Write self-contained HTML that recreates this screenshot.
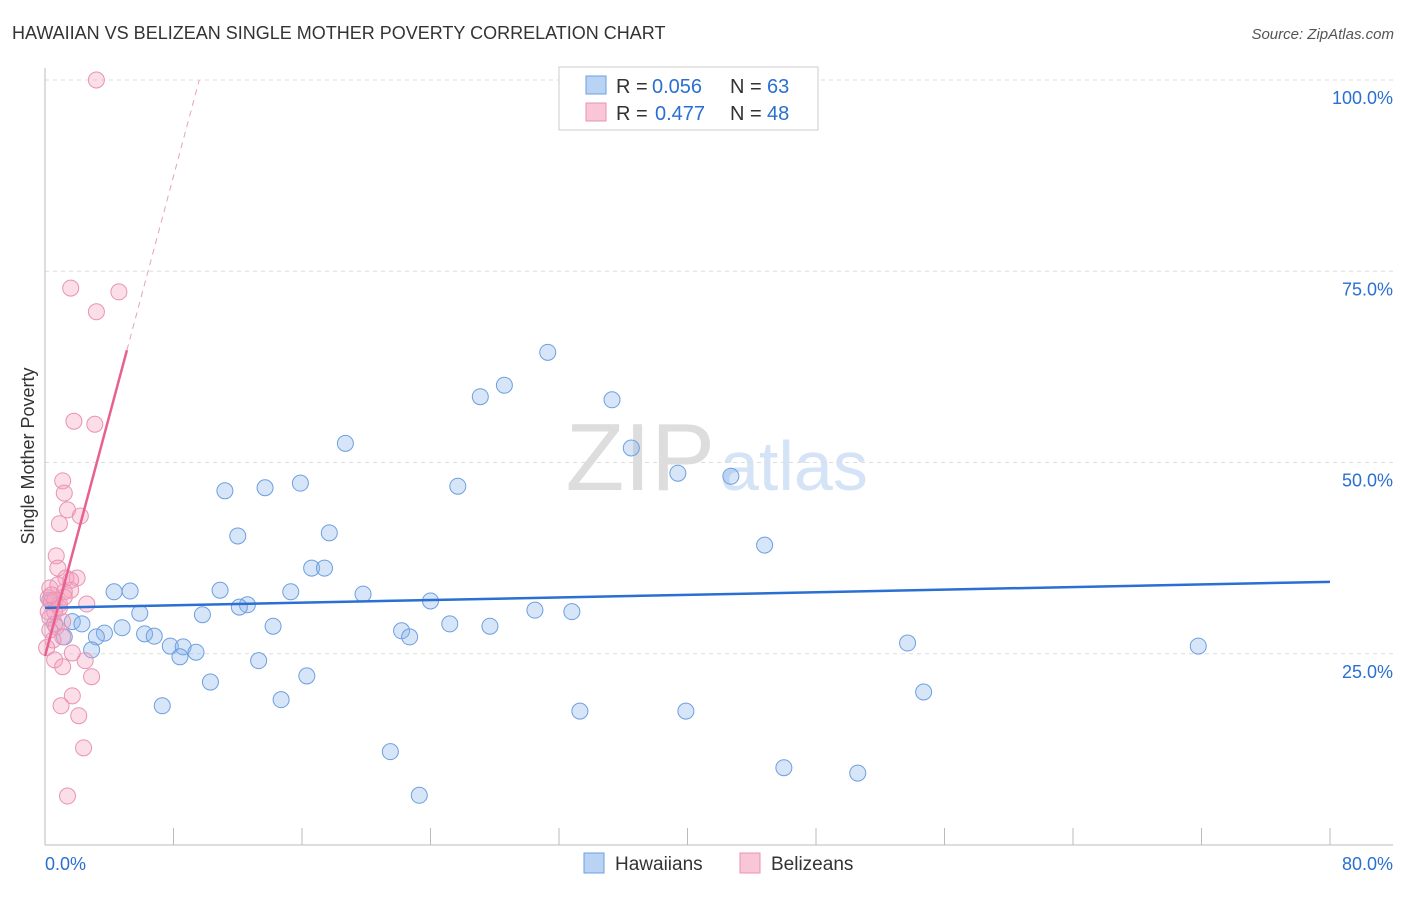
<!DOCTYPE html>
<html><head><meta charset="utf-8"><style>
body{margin:0;background:#fff;font-family:"Liberation Sans",sans-serif;}
svg text{font-family:"Liberation Sans",sans-serif;}
</style></head><body>
<svg id="c" width="1406" height="892">
<text x="12" y="39" font-size="18" fill="#333">HAWAIIAN VS BELIZEAN SINGLE MOTHER POVERTY CORRELATION CHART</text>
<text x="1394" y="39" font-size="15" fill="#555" font-style="italic" text-anchor="end">Source: ZipAtlas.com</text>
<text x="715" y="490" font-size="96" fill="#ddd" text-anchor="end" font-family="Liberation Serif">ZIP</text>
<text x="720" y="490" font-size="70" fill="#d4e3f5">atlas</text>
<text transform="translate(34,456) rotate(-90)" font-size="18" fill="#333" text-anchor="middle">Single Mother Poverty</text>
<g id="grid"></g><g id="pts"></g><g id="trend"></g>
<g>
<rect x="559" y="67" width="259" height="63" fill="#fff" stroke="#ccc"/>
<rect x="586" y="76" width="20" height="18" fill="#b9d3f5" stroke="#6d9fe0"/>
<rect x="586" y="103" width="20" height="18" fill="#f9c6d6" stroke="#e893b3"/>
<text x="616" y="93" font-size="20" fill="#333">R =</text>
<text x="652" y="93" font-size="20" fill="#2a6fd1">0.056</text>
<text x="730" y="93" font-size="20" fill="#333">N =</text>
<text x="767" y="93" font-size="20" fill="#2a6fd1">63</text>
<text x="616" y="120" font-size="20" fill="#333">R =</text>
<text x="655" y="120" font-size="20" fill="#2a6fd1">0.477</text>
<text x="730" y="120" font-size="20" fill="#333">N =</text>
<text x="767" y="120" font-size="20" fill="#2a6fd1">48</text>
</g>
<g>
<rect x="584" y="853" width="20" height="20" fill="#b9d3f5" stroke="#6d9fe0"/>
<text x="615" y="870" font-size="19" fill="#333">Hawaiians</text>
<rect x="740" y="853" width="20" height="20" fill="#f9c6d6" stroke="#e893b3"/>
<text x="771" y="870" font-size="19" fill="#333">Belizeans</text>
</g>
</svg>
<script>
const hawX=[31.3,28.6,27.1,35.3,18.7,36.5,39.4,42.7,25.7,15.9,13.7,11.2,12.0,17.7,44.8,16.6,17.4,10.9,15.3,19.8,5.3,4.3,24.0,12.6,12.1,30.5,32.8,5.9,9.8,1.7,2.3,4.8,14.2,25.2,27.7,22.2,22.7,3.7,6.2,6.8,3.2,1.2,7.8,8.6,9.4,8.4,2.9,53.7,71.8,13.3,16.3,10.3,54.7,14.7,7.3,33.3,39.9,21.5,46.0,50.6,23.3,0.6,0.3];
const hawY=[64.4,60.1,58.6,58.2,52.5,51.9,48.6,48.2,46.9,47.3,46.7,46.3,40.4,40.8,39.2,36.2,36.2,33.3,33.1,32.8,33.2,33.1,31.9,31.4,31.1,30.7,30.5,30.3,30.1,29.2,28.9,28.4,28.6,28.9,28.6,28.0,27.2,27.7,27.6,27.3,27.2,27.2,26.0,25.9,25.2,24.6,25.5,26.4,26.0,24.1,22.1,21.3,20.0,19.0,18.2,17.5,17.5,12.2,10.1,9.4,6.5,28.9,32.0];
const belX=[3.2,1.6,4.6,3.2,1.8,3.1,1.1,1.2,1.4,2.2,0.9,0.7,0.8,1.3,2.0,1.6,1.6,1.2,0.3,0.2,0.4,0.9,2.6,0.2,0.6,0.3,1.1,0.7,1.1,0.5,0.1,1.7,0.6,2.5,1.1,2.9,1.7,1.0,2.1,2.4,1.4,0.6,0.9,0.3,0.8,1.2,0.4];
const belY=[100,72.8,72.3,69.7,55.4,55.0,47.6,46.0,43.8,43.0,42.0,37.8,36.2,34.9,34.9,34.6,33.3,33.1,33.6,32.3,31.8,31.5,31.5,30.5,30.5,29.7,29.2,28.5,27.2,26.8,25.8,25.1,24.2,24.1,23.3,22.0,19.5,18.2,16.9,12.7,6.4,32.0,31.0,28.1,34.0,32.4,32.7];
const yTicks=[25,50,75,100];
const xTicks=[0,8,16,24,32,40,48,56,64,72,80];
const hawTrend=[31.0,34.4];
const belTrend=[24.7,7.84];
const NS='http://www.w3.org/2000/svg';
const sx=v=>45+v*1285/80, sy=v=>845-v*7.65;
function mk(tag,attrs,parent){const e=document.createElementNS(NS,tag);for(const k in attrs)e.setAttribute(k,attrs[k]);document.getElementById(parent).appendChild(e);return e;}
yTicks.forEach(t=>{
 const l=mk('line',{x1:45,x2:1393,y1:sy(t),y2:sy(t),stroke:'#ddd','stroke-dasharray':'4,4'},'grid');
 
 
 const tx=mk('text',{x:1393,y:sy(t)+24,'font-size':18,fill:'#2a6fd1','text-anchor':'end'},'grid');tx.textContent=t.toFixed(1)+'%';
 
 
});
let ax=mk('line',{x1:45,x2:1393,y1:845,y2:845,stroke:'#bbb'},'grid');


let ay=mk('line',{x1:45,x2:45,y1:68,y2:845,stroke:'#bbb'},'grid');


xTicks.forEach(t=>{const l=mk('line',{x1:sx(t),x2:sx(t),y1:828,y2:845,stroke:'#bbb'},'grid');
 
 });
[[0,'start',45],[80,'end',1393]].forEach(([v,a,x])=>{const t=mk('text',{x:x,y:870,'font-size':18,fill:'#2a6fd1','text-anchor':a},'grid');t.textContent=v.toFixed(1)+'%';
 
 });
hawX.forEach((v,i)=>{const c=mk('circle',{cx:sx(v),cy:sy(hawY[i]),r:8,fill:'rgba(140,180,235,0.35)',stroke:'#6d9fe0','stroke-width':1},'pts');
 
 });
belX.forEach((v,i)=>{const c=mk('circle',{cx:sx(v),cy:sy(belY[i]),r:8,fill:'rgba(245,160,190,0.35)',stroke:'#e893b3','stroke-width':1},'pts');
 
 });
let hl=mk('line',{x1:sx(0),y1:sy(hawTrend[0]),x2:sx(80),y2:sy(hawTrend[1]),stroke:'#2a6fd1','stroke-width':2.5},'trend');


const bEnd=Math.max(...belX)+0.5, bTop=(100-belTrend[0])/belTrend[1];
let bl=mk('line',{x1:sx(0),y1:sy(belTrend[0]),x2:sx(bEnd),y2:sy(belTrend[0]+belTrend[1]*bEnd),stroke:'#e8608f','stroke-width':2.5},'trend');


let bd=mk('line',{x1:sx(bEnd),y1:sy(belTrend[0]+belTrend[1]*bEnd),x2:sx(bTop),y2:sy(100),stroke:'#e8a0b8','stroke-width':1,'stroke-dasharray':'6,5'},'trend');


</script>
</body></html>
